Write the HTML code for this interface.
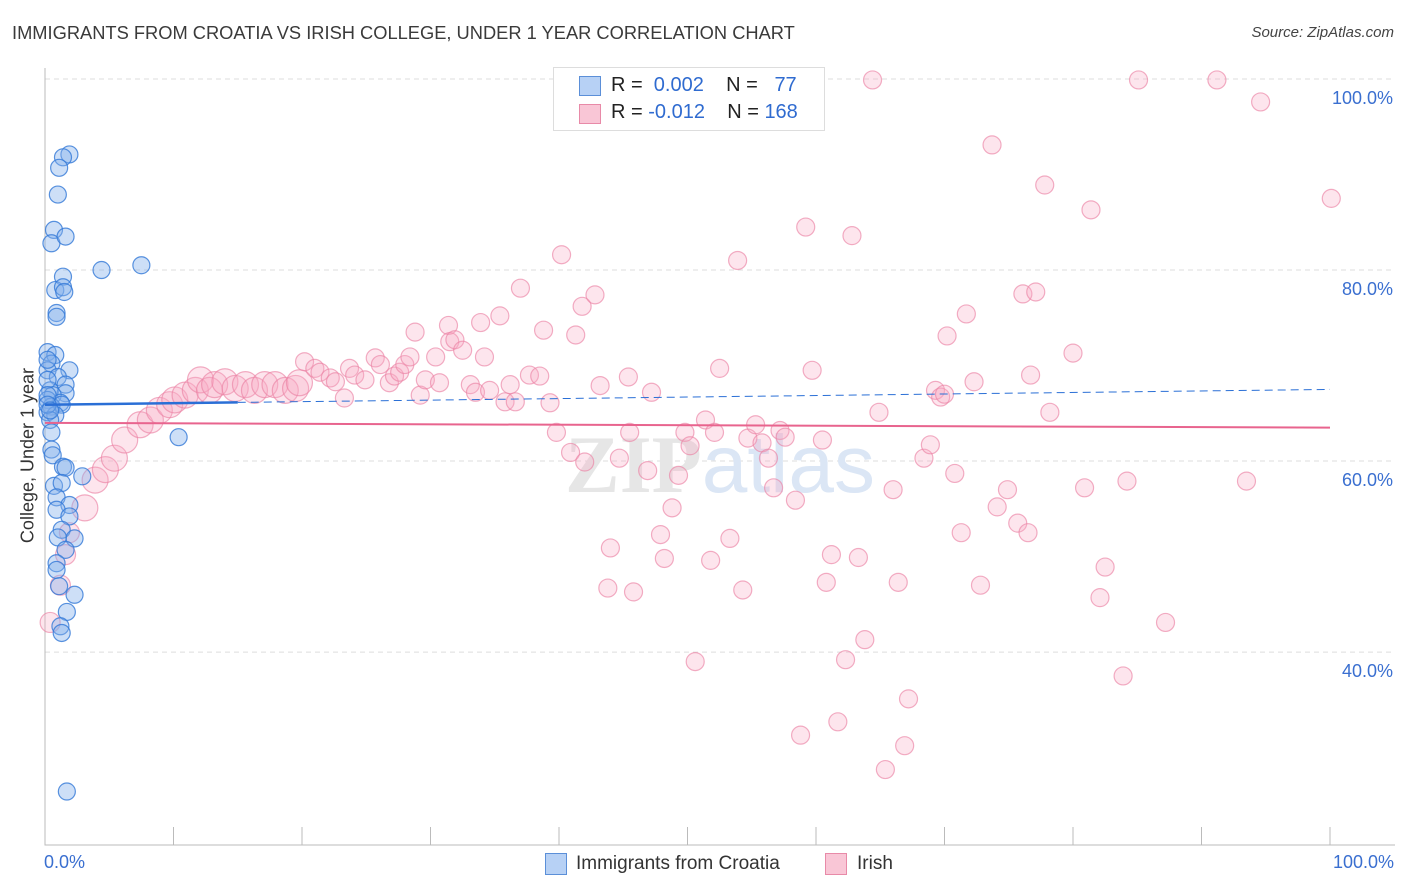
<!DOCTYPE html>
<html><head><meta charset="utf-8"><style>
body{margin:0;background:#fff;font-family:"Liberation Sans",sans-serif;}
.t{position:absolute;white-space:nowrap}
</style></head><body>
<div style="position:relative;width:1406px;height:892px;overflow:hidden">
<div class="t" style="left:12px;top:22px;font-size:18.3px;color:#3a3a3a">IMMIGRANTS FROM CROATIA VS IRISH COLLEGE, UNDER 1 YEAR CORRELATION CHART</div>
<div class="t" style="right:12px;top:24px;font-size:15px;color:#444;font-style:italic">Source: ZipAtlas.com</div>
<svg id="plot" width="1406" height="892" style="position:absolute;left:0;top:0"></svg>
</div>
<script>
const blueX=[1.9,1.4,1.1,1.0,0.7,0.5,1.6,4.4,7.5,1.4,0.8,1.4,1.5,0.9,0.9,0.2,0.8,0.5,0.2,1.9,1.0,1.6,0.4,1.6,0.6,0.2,1.2,0.5,1.3,0.2,0.8,0.4,0.5,10.4,0.5,0.6,1.4,1.6,2.9,0.7,1.3,0.9,1.9,0.9,1.9,1.3,1.0,2.3,1.6,0.9,0.9,1.1,2.3,1.7,1.2,1.3,1.7,0.2,0.2,0.2,0.2,0.4];
const blueY=[92.1,91.8,90.7,87.9,84.2,82.8,83.5,80.0,80.5,79.3,77.9,78.2,77.7,75.5,75.1,71.4,71.1,70.2,69.5,69.5,68.8,68.0,67.4,67.1,66.9,66.4,66.1,65.7,65.9,65.1,64.8,64.3,63.0,62.5,61.2,60.6,59.4,59.3,58.4,57.4,57.7,56.2,55.4,54.9,54.2,52.8,52.0,51.9,50.7,49.3,48.6,46.9,46.0,44.2,42.7,42.0,25.4,70.6,68.5,66.9,65.9,65.3];
const pinkX=[0.4,1.2,1.6,1.9,3.1,3.9,4.7,5.4,6.2,7.4,8.2,8.9,9.7,10.1,10.9,11.7,12.1,12.8,13.2,14.0,14.8,15.6,16.3,17.1,17.9,18.7,19.5,19.8,20.2,21.0,21.4,22.2,22.6,23.3,23.7,24.1,24.9,25.7,26.1,26.8,27.2,27.6,28.0,28.4,28.8,29.2,29.6,30.4,30.7,31.4,31.5,31.9,32.5,33.1,33.5,33.9,34.2,34.6,35.4,35.8,36.2,36.6,37.0,37.7,38.5,38.8,39.3,39.8,40.2,40.9,41.3,41.8,42.0,42.8,43.2,44.0,43.8,44.7,45.4,45.5,45.8,46.9,47.2,47.9,48.2,48.8,49.3,49.8,50.2,50.6,51.4,51.8,52.1,52.5,53.3,53.9,54.3,54.7,55.3,55.8,56.3,56.7,57.2,57.6,58.4,58.8,59.2,59.7,60.5,60.8,61.2,61.7,62.3,62.8,63.3,63.8,64.4,64.9,65.4,66.0,66.4,66.9,67.2,68.4,68.9,69.3,69.7,70.2,70.8,71.3,71.7,72.3,72.8,73.7,74.1,74.9,75.7,76.1,76.5,77.1,77.8,78.2,80.0,81.4,80.9,82.1,82.5,83.9,84.2,85.1,87.2,91.2,93.5,94.6,100.1,76.7,70.0];
const pinkY=[43.1,47.0,50.2,52.5,55.1,58.0,59.1,60.3,62.2,63.8,64.3,65.3,65.9,66.4,66.9,67.4,68.5,67.4,68.0,68.3,67.6,68.0,67.4,68.0,68.0,67.4,67.6,68.2,70.4,69.7,69.3,68.7,68.3,66.6,69.7,69.0,68.5,70.8,70.1,68.2,68.9,69.3,70.1,70.9,73.5,66.9,68.5,70.9,68.2,74.2,72.5,72.7,71.6,68.0,67.2,74.5,70.9,67.4,75.2,66.2,68.0,66.2,78.1,69.0,68.9,73.7,66.1,63.0,81.6,60.9,73.2,76.2,59.9,77.4,67.9,50.9,46.7,60.3,68.8,63.0,46.3,59.0,67.2,52.3,49.8,55.1,58.5,63.0,61.6,39.0,64.3,49.6,63.0,69.7,51.9,81.0,46.5,62.4,63.8,61.9,60.3,57.2,63.2,62.5,55.9,31.3,84.5,69.5,62.2,47.3,50.2,32.7,39.2,83.6,49.9,41.3,99.9,65.1,27.7,57.0,47.3,30.2,35.1,60.3,61.7,67.4,66.7,73.1,58.7,52.5,75.4,68.3,47.0,93.1,55.2,57.0,53.5,77.5,52.5,77.7,88.9,65.1,71.3,86.3,57.2,45.7,48.9,37.5,57.9,99.9,43.1,99.9,57.9,97.6,87.5,69.0,67.0];
const yTicks=[100,80,60,40];
const yTickLabels=["100.0%","80.0%","60.0%","40.0%"];
const xTicks=[0,10,20,30,40,50,60,70,80,90,100];
const blueTrend=[65.9,67.5]; const pinkTrend=[64.0,63.5];
const X0=45,X1=1330,YT=79,YB=845,YMIN=19.8,YMAX=100;
const sx=v=>X0+(X1-X0)*v/100;
const sy=v=>YB-(YB-YT)*(v-YMIN)/(YMAX-YMIN);
const svg=document.getElementById('plot');const NS='http://www.w3.org/2000/svg';
function mk(t,a,p){const e=document.createElementNS(NS,t);for(const k in a)e.setAttribute(k,a[k]);(p||svg).appendChild(e);return e;}
yTicks.forEach((v,i)=>{
 const g=mk('line',{x1:X0,x2:1395,y1:sy(v),y2:sy(v),stroke:'#ddd','stroke-dasharray':'5,4'});
 
 
 const t=mk('text',{x:1393,y:sy(v)+25,'text-anchor':'end','font-size':18,fill:'#3a6fd0','font-family':'Liberation Sans'});
 t.textContent=yTickLabels[i];
 
 
});
const ax=mk('path',{d:`M${X0},68V${YB}H1395`,stroke:'#bbb',fill:'none'});


xTicks.forEach(v=>{const l=mk('line',{x1:sx(v),x2:sx(v),y1:YB,y2:YB-18,stroke:'#bbb'});
 
 });
const wm=mk('text',{x:720,y:492,'text-anchor':'middle','font-size':82,fill:'#e6e6e6','font-family':'Liberation Serif','font-weight':'bold'});
wm.innerHTML='ZIP<tspan fill="#dbe6f5" font-family="Liberation Sans" font-weight="normal">atlas</tspan>';


pinkX.forEach((x,i)=>{const r=x<20?(x<2?10:13):9;
 const c=mk('circle',{cx:sx(x),cy:sy(pinkY[i]),r:r,fill:'rgba(248,170,195,0.3)',stroke:'rgba(235,130,165,0.65)','stroke-width':1.2});
 
 });
blueX.forEach((x,i)=>{
 const c=mk('circle',{cx:sx(x),cy:sy(blueY[i]),r:8.5,fill:'rgba(130,175,235,0.4)',stroke:'rgba(50,120,215,0.8)','stroke-width':1.2});
 
 });
const bt=blueTrend,mid=bt[0]+(bt[1]-bt[0])*0.15;
const b1=mk('line',{x1:sx(0),x2:sx(15),y1:sy(bt[0]),y2:sy(mid),stroke:'#2a6fd6','stroke-width':2.5});


const b2=mk('line',{x1:sx(15),x2:sx(100),y1:sy(mid),y2:sy(bt[1]),stroke:'#2a6fd6','stroke-width':1,'stroke-dasharray':'8,5'});


const p1=mk('line',{x1:sx(0),x2:sx(100),y1:sy(pinkTrend[0]),y2:sy(pinkTrend[1]),stroke:'#e8648e','stroke-width':2});


</script>
<div class="t" style="left:-62px;top:445px;transform:rotate(-90deg);font-size:18px;color:#333;width:180px;text-align:center">College, Under 1 year</div>
<div class="t" style="left:44px;top:852px;font-size:18px;color:#3a6fd0">0.0%</div>
<div class="t" style="right:12px;top:852px;font-size:18px;color:#3a6fd0">100.0%</div>
<div style="position:absolute;left:553px;top:67px;width:270px;height:62px;border:1px solid #ddd;background:#fff;font-size:20px;color:#222">
 <div style="position:absolute;left:25px;top:8px;width:20px;height:18px;background:#b7d1f5;border:1px solid #5b8fd8"></div>
 <div class="t" style="left:57px;top:6px">R = &nbsp;<span style="color:#2f6bd0">0.002</span>&nbsp;&nbsp;&nbsp; N = &nbsp;&nbsp;<span style="color:#2f6bd0">77</span></div>
 <div style="position:absolute;left:25px;top:36px;width:20px;height:18px;background:#f9c6d6;border:1px solid #e88aa8"></div>
 <div class="t" style="left:57px;top:33px">R = <span style="color:#2f6bd0">-0.012</span>&nbsp;&nbsp;&nbsp; N = <span style="color:#2f6bd0">168</span></div>
</div>
<div style="position:absolute;left:545px;top:853px">
 <div style="position:absolute;left:0;top:0;width:20px;height:20px;background:#b7d1f5;border:1px solid #5b8fd8"></div>
 <div class="t" style="left:31px;top:0;font-size:19px;color:#333">Immigrants from Croatia</div></div>
<div style="position:absolute;left:825px;top:853px">
 <div style="position:absolute;left:0;top:0;width:20px;height:20px;background:#f9c6d6;border:1px solid #e88aa8"></div>
 <div class="t" style="left:32px;top:0;font-size:19px;color:#333">Irish</div></div>
</body></html>
